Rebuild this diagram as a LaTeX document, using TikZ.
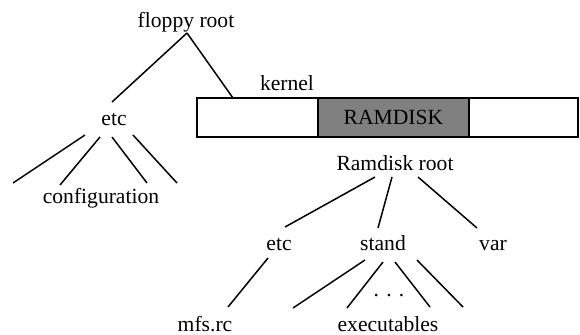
\documentclass[tikz,border=0pt]{standalone}
\usepackage{fontspec}
\setmainfont{Liberation Serif}
\usepackage{tikz}
\usetikzlibrary{calc,positioning}

\begin{document}
\begin{tikzpicture}[x=0.5pt,y=-0.5pt,
    dirnode/.style={anchor=base, font=\fontsize{10.8}{13}\selectfont},
    branch/.style={line width=0.75pt},
    kernbox/.style={draw, line width=0.85pt, inner sep=0pt, outer sep=0pt,
      minimum height=19.5pt, font=\fontsize{10.8}{13}\selectfont}]
  \useasboundingbox (0,0) rectangle (580,334);
  % floppy
  \node[dirnode] (floppy) at (186,27) {floppy root};
  \node[dirnode] (etcL) at (114,125) {etc};
  \node[dirnode] (config) at (101,203) {configuration};
  \node[dirnode] (kernel) at (287,90) {kernel};
  \node[kernbox, minimum width=60.5pt, anchor=north west] (kernL) at (197,98) {};
  \node[kernbox, fill=gray, minimum width=75.5pt, right=0pt of kernL] (ramdisk) {RAMDISK};
  \node[kernbox, minimum width=54.5pt, right=0pt of ramdisk] (kernR) {};
  \coordinate (kattach) at (233,98);
  \draw[branch] ($(floppy.base)+(1,6)$) -- ($(etcL.base)+(-2,-23)$);
  \draw[branch] ($(floppy.base)+(1,6)$) -- (kattach);
  \foreach \sx/\sy/\ex/\ey [count=\i] in {-29/10/13/183, -14/12/60/185, -2/12/147/183, 19/10/177/183}{
    \coordinate (cfg\i) at (\ex,\ey);
    \draw[branch] ($(etcL.base)+(\sx,\sy)$) -- (cfg\i);
  }
  % ramdisk
  \node[dirnode] (rroot) at (395,170) {Ramdisk root};
  \node[dirnode] (etcR) at (279,250) {etc};
  \node[dirnode] (stand) at (383,250) {stand};
  \node[dirnode] (var) at (493,250) {var};
  \node[dirnode] (mfsrc) at (205,331) {mfs.rc};
  \node[dirnode] (dots) at (389,296) {. . .};
  \node[dirnode] (exec) at (388,331) {executables};
  \draw[branch] ($(rroot.base)+(-20,7)$) -- ($(etcR.base)+(6,-23)$);
  \draw[branch] ($(rroot.base)+(-3,7)$) -- ($(stand.base)+(-5,-22)$);
  \draw[branch] ($(rroot.base)+(23,7)$) -- ($(var.base)+(-16,-22)$);
  \draw[branch] ($(etcR.base)+(-11,8)$) -- ($(mfsrc.base)+(23,-24)$);
  \foreach \sx/\sy/\ex/\ey [count=\i] in {-18/10/293/308, 0/12/347/308, 12/12/430/307, 34/10/463/307}{
    \coordinate (exe\i) at (\ex,\ey);
    \draw[branch] ($(stand.base)+(\sx,\sy)$) -- (exe\i);
  }
\end{tikzpicture}
\end{document}
